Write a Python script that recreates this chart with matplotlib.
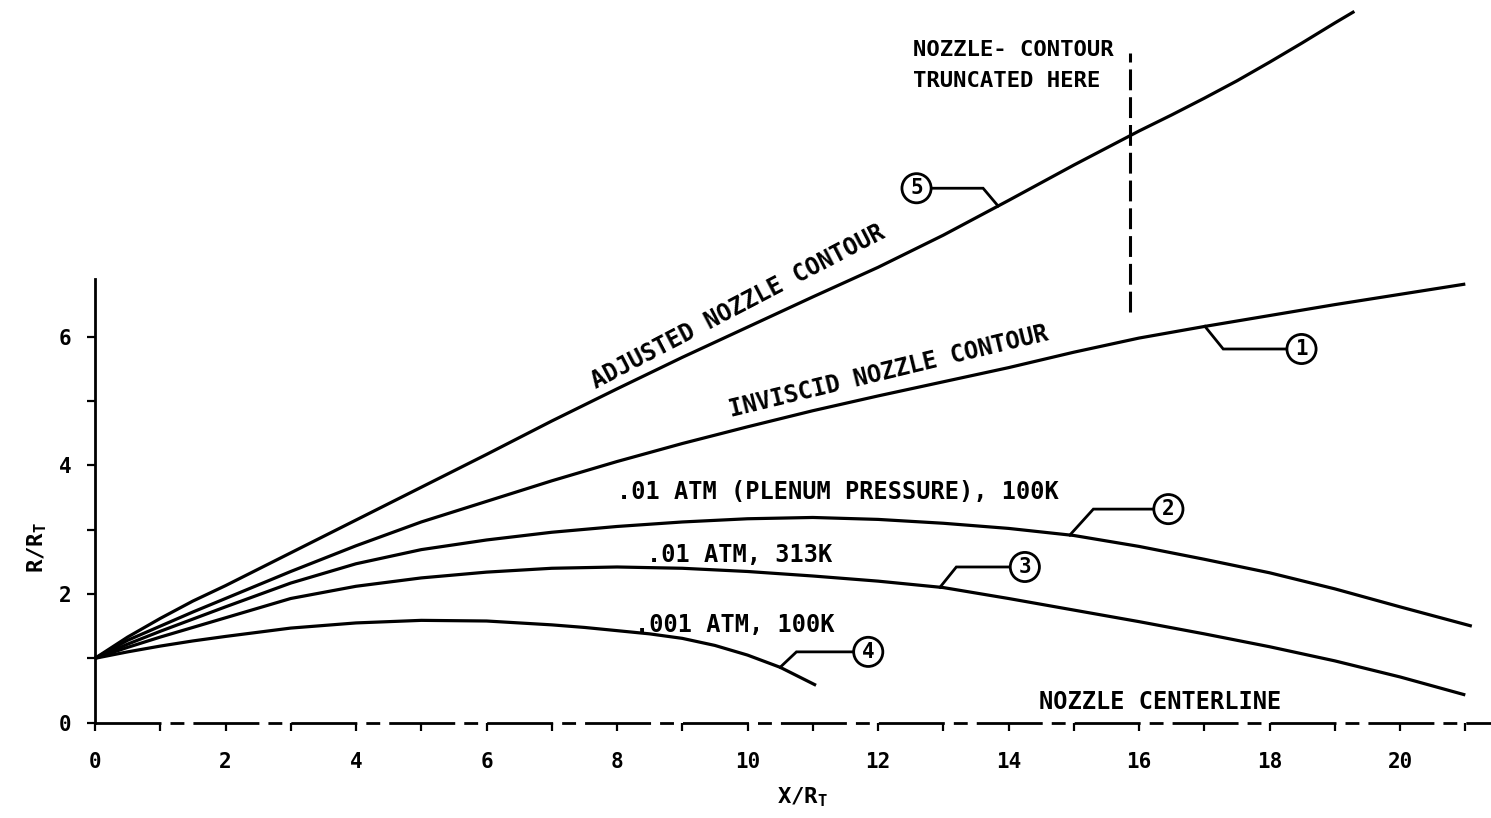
import numpy as np
import matplotlib
matplotlib.use("Agg")
import matplotlib.pyplot as plt

plt.rcParams["font.family"] = ["DejaVu Sans Mono"]
plt.rcParams["font.weight"] = "bold"
plt.rcParams["mathtext.fontset"] = "custom"
plt.rcParams["mathtext.rm"] = "DejaVu Sans Mono:bold"
plt.rcParams["mathtext.it"] = "DejaVu Sans Mono:bold"
plt.rcParams["lines.scale_dashes"] = False

# ---------------- data ----------------
x_adjusted = [0, 0.5, 1.0, 1.5, 2, 3, 4, 5, 6, 7, 8, 9, 10, 11, 12, 13, 14, 15, 16, 16.5,
              17, 17.5, 18, 18.5, 19, 19.3]
r_adjusted = [1.0, 1.33, 1.62, 1.89, 2.13, 2.64, 3.15, 3.66, 4.17, 4.69, 5.19, 5.68, 6.15,
              6.62, 7.08, 7.58, 8.12, 8.67, 9.20, 9.45, 9.71, 9.98, 10.27, 10.57, 10.88, 11.06]

x_inviscid = [0, 0.5, 1, 1.5, 2, 3, 4, 5, 6, 7, 8, 9, 10, 11, 12, 13, 14, 15, 16, 17, 18, 19, 20, 21]
r_inviscid = [1.0, 1.28, 1.50, 1.72, 1.93, 2.35, 2.75, 3.12, 3.44, 3.76, 4.06, 4.34, 4.60,
              4.85, 5.08, 5.30, 5.52, 5.76, 5.98, 6.16, 6.33, 6.50, 6.66, 6.82]

x_p01_100 = [0, 0.5, 1, 1.5, 2, 3, 4, 5, 6, 7, 8, 9, 10, 11, 12, 13, 14, 15, 16, 17, 18, 19, 20, 21.1]
r_p01_100 = [1.0, 1.22, 1.42, 1.61, 1.80, 2.17, 2.47, 2.69, 2.84, 2.96, 3.05, 3.12, 3.17,
             3.19, 3.16, 3.10, 3.02, 2.91, 2.74, 2.54, 2.33, 2.08, 1.80, 1.50]

x_p01_313 = [0, 0.5, 1, 1.5, 2, 3, 4, 5, 6, 7, 8, 9, 10, 11, 12, 13, 14, 15, 16, 17, 18, 19, 20, 21]
r_p01_313 = [1.0, 1.17, 1.33, 1.48, 1.63, 1.93, 2.12, 2.25, 2.34, 2.40, 2.42, 2.40, 2.35,
             2.28, 2.20, 2.10, 1.93, 1.75, 1.57, 1.38, 1.18, 0.96, 0.71, 0.43]

x_p001_100 = [0, 0.5, 1, 1.5, 2, 3, 4, 5, 6, 7, 7.5, 8, 8.5, 9, 9.5, 10, 10.5, 11.05]
r_p001_100 = [1.0, 1.10, 1.19, 1.27, 1.34, 1.47, 1.55, 1.59, 1.58, 1.52, 1.48, 1.43, 1.38,
              1.31, 1.20, 1.05, 0.86, 0.58]

x_ticks = list(range(0, 22))
x_ticklabels = [str(v) if v % 2 == 0 else "" for v in x_ticks]
y_ticks = list(range(0, 7))
y_ticklabels = [str(v) if v % 2 == 0 else "" for v in y_ticks]

truncation_x = 15.86

# ---------------- figure ----------------
W, H = 1491, 818
fig = plt.figure(figsize=(W / 100, H / 100), dpi=100)
ax = fig.add_axes([95 / W, (H - 722.6) / H, 1396.4 / W, 720.2 / H])
ax.set_xlim(0, 21.4)
ax.set_ylim(0, 11.2)

LW = 2.3
for xs, ys in [(x_adjusted, r_adjusted), (x_inviscid, r_inviscid), (x_p01_100, r_p01_100),
               (x_p01_313, r_p01_313), (x_p001_100, r_p001_100)]:
    ax.plot(xs, ys, color="black", lw=LW, solid_capstyle="butt",
            solid_joinstyle="round", clip_on=False)

# nozzle centerline (dashed x axis)
ax.plot([0, 21.4], [0, 0], color="black", lw=2.0, dashes=(47.5, 6.5, 10, 6.5),
        clip_on=False)

# truncation line
ax.plot([truncation_x, truncation_x], [6.39, 10.41], color="black", lw=2.2,
        dashes=(15, 5), clip_on=False)

# axes styling
for s in ["top", "right", "bottom"]:
    ax.spines[s].set_visible(False)
ax.spines["left"].set_bounds(0, 6.9)
ax.spines["left"].set_linewidth(2.0)
ax.set_xticks(x_ticks)
ax.set_xticklabels(x_ticklabels)
ax.set_yticks(y_ticks)
ax.set_yticklabels(y_ticklabels)
ax.tick_params(axis="x", direction="out", length=6, width=1.6, pad=15, labelsize=15)
ax.tick_params(axis="y", direction="out", length=6, width=1.6, pad=11, labelsize=15)
for lab in ax.get_xticklabels() + ax.get_yticklabels():
    lab.set_fontweight("bold")

# axis labels
fig.text(803 / W, 1 - 797 / H, r"X/R$_{\rm T}$", ha="center", va="center",
         fontsize=16, fontweight="bold")
fig.text(37 / W, 1 - 547 / H, r"R/R$_{\rm T}$", ha="center", va="center",
         rotation=90, fontsize=16, fontweight="bold")

# curve annotations
TF = 17
ax.text(9.85, 6.46, "ADJUSTED NOZZLE CONTOUR", rotation=27.6, rotation_mode="anchor",
        ha="center", va="center", fontsize=TF)
ax.text(12.17, 5.46, "INVISCID NOZZLE CONTOUR", rotation=13.6, rotation_mode="anchor",
        ha="center", va="center", fontsize=TF)
ax.text(11.38, 3.59, ".01 ATM (PLENUM PRESSURE), 100K", ha="center", va="center", fontsize=TF)
ax.text(9.88, 2.61, ".01 ATM, 313K", ha="center", va="center", fontsize=TF)
ax.text(9.81, 1.52, ".001 ATM, 100K", ha="center", va="center", fontsize=TF)
ax.text(16.33, 0.325, "NOZZLE CENTERLINE", ha="center", va="center", fontsize=TF)
ax.text(12.54, 10.46, "NOZZLE- CONTOUR", ha="left", va="center", fontsize=16)
ax.text(12.54, 9.97, "TRUNCATED HERE", ha="left", va="center", fontsize=16)

# numbered callouts: (label, circle x, circle y, elbow x, anchor x, series)
callouts = [
    ("5", 12.59, 8.31, 13.61, 13.84, (x_adjusted, r_adjusted)),
    ("1", 18.49, 5.81, 17.29, 17.01, (x_inviscid, r_inviscid)),
    ("2", 16.45, 3.32, 15.30, 14.94, (x_p01_100, r_p01_100)),
    ("3", 14.25, 2.42, 13.20, 12.95, (x_p01_313, r_p01_313)),
    ("4", 11.85, 1.10, 10.75, 10.50, (x_p001_100, r_p001_100)),
]
for lab, cx, cy, ex, axx, (sx, sy) in callouts:
    ay = float(np.interp(axx, sx, sy))
    ax.plot([cx, ex, axx], [cy, cy, ay], color="black", lw=2.0, clip_on=False,
            solid_joinstyle="miter")
    ax.text(cx, cy, lab, ha="center", va="center", fontsize=15, zorder=5,
            bbox=dict(boxstyle="circle,pad=0.22", fc="white", ec="black", lw=2.0))

fig.savefig("out.png", dpi=100, facecolor="white")
